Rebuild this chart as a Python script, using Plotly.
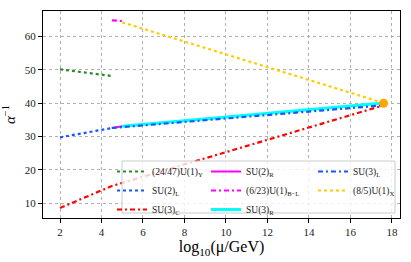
import plotly.graph_objects as go

# ---- data ----
x_low = [2.0, 4.5]
y_u1y = [50.1, 48.1]
y_su2l = [29.7, 32.5]

x_su3c = [2.0, 4.5, 17.6]
y_su3c = [8.5, 15.1, 39.3]

x_mid = [4.5, 5.0]
y_su2r = [32.5, 33.0]
y_bl = [64.8, 64.6]

x_high = [5.0, 17.6]
y_su3r = [33.0, 40.0]
y_u1x = [64.2, 40.0]

x_su3l = [4.5, 17.6]
y_su3l = [32.5, 39.3]

x_unif = [17.6]
y_unif = [39.9]

x_ticks = [2, 4, 6, 8, 10, 12, 14, 16, 18]
y_ticks = [10, 20, 30, 40, 50, 60]

FONT = "Liberation Serif"
DASHDOT = "5px,3px,2px,3px"

fig = go.Figure()

def add(x, y, name, color, dash, width, legend):
    fig.add_trace(go.Scatter(x=x, y=y, mode="lines", name=name, legend=legend,
                             line=dict(color=color, dash=dash, width=width)))

add(x_low, y_u1y, "(24/47)U(1)<sub>Y</sub>", "#2a8c2a", "dot", 2.2, "legend")
add(x_low, y_su2l, "SU(2)<sub>L</sub>", "#1a55ff", "dot", 2.2, "legend")
add(x_su3c, y_su3c, "SU(3)<sub>C</sub>", "#ff0000", DASHDOT, 2.2, "legend")
add(x_mid, y_su2r, "SU(2)<sub>R</sub>", "#ff00ff", "solid", 2, "legend2")
add(x_mid, y_bl, "(6/23)U(1)<sub>B−L</sub>", "#ff00ff", DASHDOT, 2.2, "legend2")
add(x_high, y_su3r, "SU(3)<sub>R</sub>", "#00ffff", "solid", 3, "legend2")
add(x_su3l, y_su3l, "SU(3)<sub>L</sub>", "#1a55ff", DASHDOT, 2.2, "legend3")
add(x_high, y_u1x, "(8/5)U(1)<sub>X</sub>", "#ffcc00", "dot", 2.2, "legend3")

fig.add_trace(go.Scatter(x=x_unif, y=y_unif, mode="markers", showlegend=False,
                         marker=dict(color="#ffa500", size=9)))

axis_common = dict(
    showline=True, linecolor="black", linewidth=1.2, mirror=True,
    ticks="outside", ticklen=4, tickcolor="black",
    showgrid=True, gridcolor="#b0b0b0", griddash="dot", gridwidth=1,
    zeroline=False, tickfont=dict(family=FONT, size=11, color="#222"),
)

fig.update_xaxes(range=[1.18, 18.39], tickvals=x_ticks,
                 title=dict(text="log<sub>10</sub>(μ/GeV)", standoff=2,
                            font=dict(family=FONT, size=16, color="black")),
                 **axis_common)
fig.update_yaxes(range=[5.5, 67.6], tickvals=y_ticks,
                 title=dict(text="<i>α</i><sup>−1</sup>", standoff=6,
                            font=dict(family=FONT, size=15, color="black")),
                 **axis_common)

# legend frame (semi-transparent, like matplotlib's framealpha)
fig.add_shape(type="rect", xref="paper", yref="paper", layer="above",
              x0=(122 - 43) / 357, x1=(395 - 43) / 357,
              y0=(218 - 213) / 207, y1=(218 - 161) / 207,
              line=dict(color="#cccccc", width=1),
              fillcolor="rgba(255,255,255,0.8)")

leg_common = dict(orientation="v", yanchor="top", xanchor="left",
                  bgcolor="rgba(0,0,0,0)", borderwidth=0,
                  font=dict(family=FONT, size=9.5, color="#222"),
                  tracegroupgap=0, itemwidth=30)
top_y = (218 - 157) / 207
fig.update_layout(
    width=411, height=262,
    margin=dict(l=43, r=11, t=11, b=44, autoexpand=False),
    paper_bgcolor="white", plot_bgcolor="white",
    showlegend=True,
    legend=dict(x=(112 - 43) / 357, y=top_y, **leg_common),
    legend2=dict(x=(206 - 43) / 357, y=top_y, **leg_common),
    legend3=dict(x=(313 - 43) / 357, y=top_y, **leg_common),
)

fig.write_html("out.html", config={"displayModeBar": False},
               post_script="document.body.style.margin='0px';document.body.style.overflow='hidden';")
